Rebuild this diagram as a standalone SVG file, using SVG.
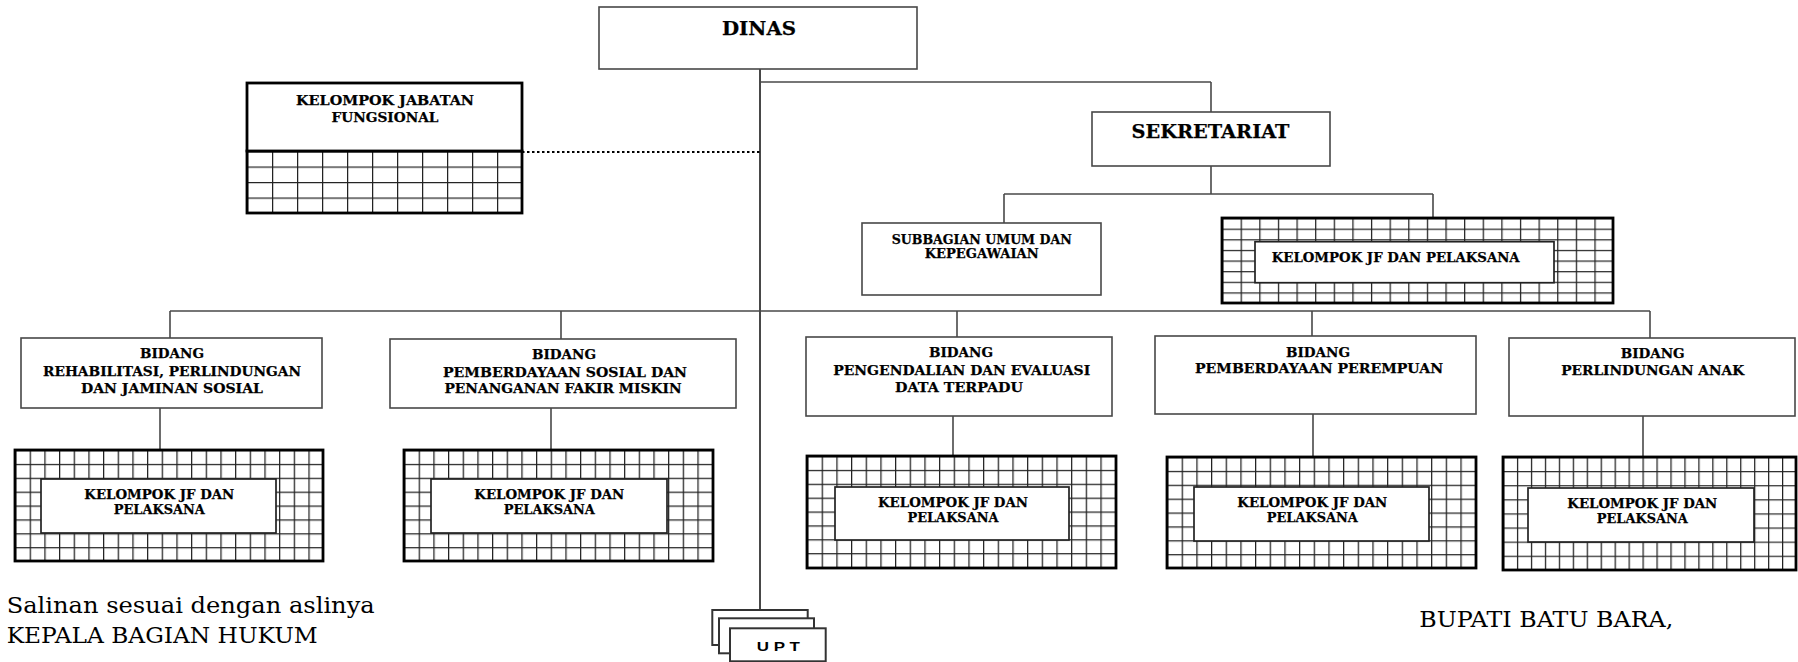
<svg xmlns="http://www.w3.org/2000/svg" width="1798" height="662" viewBox="0 0 1798 662">
<style>
.box{fill:#fff;stroke:#484848;stroke-width:1.6}
.gbox{stroke:#000;stroke-width:2.8}
.inner{fill:#fff;stroke:#222;stroke-width:1.7}
.t{font-family:"DejaVu Serif",serif;font-weight:bold;font-size:13.5px;text-anchor:middle;fill:#000;stroke:#000;stroke-width:0.25}
.ft{font-family:"DejaVu Serif",serif;font-size:21.5px;fill:#000}
.upt{fill:#fff;stroke:#333;stroke-width:2}
#connectors line{stroke:#484848;stroke-width:1.6}
</style>
<defs>
<pattern id="gridB" patternUnits="userSpaceOnUse" width="14.67" height="13.875"><path d="M0.6 0V13.875M0 0.6H14.67" stroke="#222" stroke-width="1.3" fill="none"/></pattern>
<pattern id="gridB5" patternUnits="userSpaceOnUse" width="13.95" height="14.1"><path d="M0.6 0V14.1M0 0.6H13.95" stroke="#222" stroke-width="1.3" fill="none"/></pattern>
<pattern id="gridS" patternUnits="userSpaceOnUse" width="18.62" height="10.625"><path d="M0.6 0V10.625M0 0.6H18.62" stroke="#222" stroke-width="1.3" fill="none"/></pattern>
<pattern id="gridK" patternUnits="userSpaceOnUse" width="25" height="15.5"><path d="M0.6 0V15.5M0 0.6H25" stroke="#222" stroke-width="1.3" fill="none"/></pattern>
</defs>
<rect width="1798" height="662" fill="#fff"/>

<g id="connectors">
<line x1="760" y1="69" x2="760" y2="610" style="stroke-width:2"/>
<line x1="760" y1="82" x2="1211" y2="82"/>
<line x1="1211" y1="82" x2="1211" y2="112"/>
<line x1="1211" y1="166" x2="1211" y2="194"/>
<line x1="1004" y1="194" x2="1433" y2="194"/>
<line x1="1004" y1="194" x2="1004" y2="223"/>
<line x1="1433" y1="194" x2="1433" y2="218"/>
<line x1="522" y1="152" x2="760" y2="152" style="stroke:#000;stroke-width:2;stroke-dasharray:2.5 2.5"/>
<line x1="170" y1="311" x2="1650" y2="311"/>
<line x1="170" y1="311" x2="170" y2="338"/>
<line x1="561" y1="311" x2="561" y2="339"/>
<line x1="957" y1="311" x2="957" y2="337"/>
<line x1="1312" y1="311" x2="1312" y2="336"/>
<line x1="1650" y1="311" x2="1650" y2="338"/>
<line x1="160" y1="408" x2="160" y2="450"/>
<line x1="551" y1="408" x2="551" y2="450"/>
<line x1="953" y1="416" x2="953" y2="456"/>
<line x1="1313" y1="414" x2="1313" y2="457"/>
<line x1="1643" y1="416" x2="1643" y2="457"/>
</g>

<g id="dinas">
<rect class="box" x="599" y="7" width="318" height="62"/>
<text class="t" x="759" y="35" style="font-size:18px" textLength="74" lengthAdjust="spacingAndGlyphs">DINAS</text>
</g>

<g id="kelompok-jabatan-fungsional">
<rect transform="translate(247 151)" width="275" height="62" fill="url(#gridK)" class="gbox"/>
<rect x="247" y="83" width="275" height="68" fill="#fff" class="gbox"/>
<text class="t" x="385" y="105" textLength="178" lengthAdjust="spacingAndGlyphs">KELOMPOK JABATAN</text>
<text class="t" x="385" y="121.7" textLength="107" lengthAdjust="spacingAndGlyphs">FUNGSIONAL</text>
</g>

<g id="sekretariat">
<rect class="box" x="1092" y="112" width="238" height="54"/>
<text class="t" x="1210.5" y="138.3" style="font-size:19px" textLength="158" lengthAdjust="spacingAndGlyphs">SEKRETARIAT</text>
</g>

<g id="subbagian-umum">
<rect class="box" x="862" y="223" width="239" height="72"/>
<text class="t" x="981.7" y="244" textLength="180" lengthAdjust="spacingAndGlyphs">SUBBAGIAN UMUM DAN</text>
<text class="t" x="981.7" y="258.3" textLength="114" lengthAdjust="spacingAndGlyphs">KEPEGAWAIAN</text>
</g>

<g id="jf-sekretariat">
<rect transform="translate(1222 218)" width="391" height="85" fill="url(#gridS)" class="gbox"/>
<rect class="inner" x="1255" y="241.7" width="299" height="41"/>
<text class="t" x="1271.7" y="261.7" style="text-anchor:start" textLength="248" lengthAdjust="spacingAndGlyphs">KELOMPOK JF DAN PELAKSANA</text>
</g>

<g id="bidang-rehabilitasi">
<rect class="box" x="21" y="338" width="301" height="70"/>
<text class="t" x="172" y="358.3" textLength="64" lengthAdjust="spacingAndGlyphs">BIDANG</text>
<text class="t" x="172" y="376" textLength="258" lengthAdjust="spacingAndGlyphs">REHABILITASI, PERLINDUNGAN</text>
<text class="t" x="172" y="392.7" textLength="182" lengthAdjust="spacingAndGlyphs">DAN JAMINAN SOSIAL</text>
</g>
<g id="jf-bidang-rehabilitasi">
<rect transform="translate(15 450)" width="308" height="111" fill="url(#gridB)" class="gbox"/>
<rect class="inner" x="41" y="479" width="235" height="54"/>
<text class="t" x="159.3" y="499.3" textLength="150" lengthAdjust="spacingAndGlyphs">KELOMPOK JF DAN</text>
<text class="t" x="159.3" y="514.3" textLength="91" lengthAdjust="spacingAndGlyphs">PELAKSANA</text>
</g>

<g id="bidang-pemberdayaan-sosial">
<rect class="box" x="390" y="339" width="346" height="69"/>
<text class="t" x="564" y="359.3" textLength="64" lengthAdjust="spacingAndGlyphs">BIDANG</text>
<text class="t" x="565" y="377.3" textLength="244" lengthAdjust="spacingAndGlyphs">PEMBERDAYAAN SOSIAL DAN</text>
<text class="t" x="563" y="393.3" textLength="237" lengthAdjust="spacingAndGlyphs">PENANGANAN FAKIR MISKIN</text>
</g>
<g id="jf-bidang-pemberdayaan-sosial">
<rect transform="translate(404 450)" width="309" height="111" fill="url(#gridB)" class="gbox"/>
<rect class="inner" x="431" y="479" width="236" height="54"/>
<text class="t" x="549.3" y="499.3" textLength="150" lengthAdjust="spacingAndGlyphs">KELOMPOK JF DAN</text>
<text class="t" x="549.3" y="514.3" textLength="91" lengthAdjust="spacingAndGlyphs">PELAKSANA</text>
</g>

<g id="bidang-pengendalian">
<rect class="box" x="806" y="337" width="306" height="79"/>
<text class="t" x="961" y="357.3" textLength="64" lengthAdjust="spacingAndGlyphs">BIDANG</text>
<text class="t" x="961.7" y="375" textLength="257" lengthAdjust="spacingAndGlyphs">PENGENDALIAN DAN EVALUASI</text>
<text class="t" x="959" y="391.7" textLength="128" lengthAdjust="spacingAndGlyphs">DATA TERPADU</text>
</g>
<g id="jf-bidang-pengendalian">
<rect transform="translate(807 456)" width="309" height="112" fill="url(#gridB)" class="gbox"/>
<rect class="inner" x="835" y="487" width="234" height="53"/>
<text class="t" x="953" y="506.7" textLength="150" lengthAdjust="spacingAndGlyphs">KELOMPOK JF DAN</text>
<text class="t" x="953" y="521.7" textLength="91" lengthAdjust="spacingAndGlyphs">PELAKSANA</text>
</g>

<g id="bidang-pemberdayaan-perempuan">
<rect class="box" x="1155" y="336" width="321" height="78"/>
<text class="t" x="1318" y="356.7" textLength="64" lengthAdjust="spacingAndGlyphs">BIDANG</text>
<text class="t" x="1319" y="373.3" textLength="248" lengthAdjust="spacingAndGlyphs">PEMBERDAYAAN PEREMPUAN</text>
</g>
<g id="jf-bidang-pemberdayaan-perempuan">
<rect transform="translate(1167 457)" width="309" height="111" fill="url(#gridB)" class="gbox"/>
<rect class="inner" x="1194" y="487" width="235" height="54"/>
<text class="t" x="1312.3" y="506.7" textLength="150" lengthAdjust="spacingAndGlyphs">KELOMPOK JF DAN</text>
<text class="t" x="1312.3" y="521.7" textLength="91" lengthAdjust="spacingAndGlyphs">PELAKSANA</text>
</g>

<g id="bidang-perlindungan-anak">
<rect class="box" x="1509" y="338" width="286" height="78"/>
<text class="t" x="1652.7" y="358.3" textLength="64" lengthAdjust="spacingAndGlyphs">BIDANG</text>
<text class="t" x="1652.7" y="375" textLength="183" lengthAdjust="spacingAndGlyphs">PERLINDUNGAN ANAK</text>
</g>
<g id="jf-bidang-perlindungan-anak">
<rect transform="translate(1503 457)" width="293" height="113" fill="url(#gridB5)" class="gbox"/>
<rect class="inner" x="1528" y="488" width="226" height="54"/>
<text class="t" x="1642.3" y="507.5" textLength="150" lengthAdjust="spacingAndGlyphs">KELOMPOK JF DAN</text>
<text class="t" x="1642.3" y="522.5" textLength="91" lengthAdjust="spacingAndGlyphs">PELAKSANA</text>
</g>

<g id="upt">
<rect class="upt" x="712.3" y="610" width="95.4" height="35"/>
<rect class="upt" x="719" y="618.3" width="95" height="35"/>
<rect class="upt" x="730" y="628.3" width="95.7" height="33"/>
<text x="778.3" y="650.7" style="font-family:'Liberation Sans',Arial,sans-serif;font-weight:bold;font-size:13px;text-anchor:middle;fill:#000" textLength="43" lengthAdjust="spacingAndGlyphs">U P T</text>
</g>

<g id="footer">
<text class="ft" x="6.7" y="612.7" textLength="368" lengthAdjust="spacingAndGlyphs">Salinan sesuai dengan aslinya</text>
<text class="ft" x="6.7" y="642.7" textLength="311" lengthAdjust="spacingAndGlyphs">KEPALA BAGIAN HUKUM</text>
<text class="ft" x="1419.3" y="626.7" textLength="254" lengthAdjust="spacingAndGlyphs">BUPATI BATU BARA,</text>
</g>
</svg>
